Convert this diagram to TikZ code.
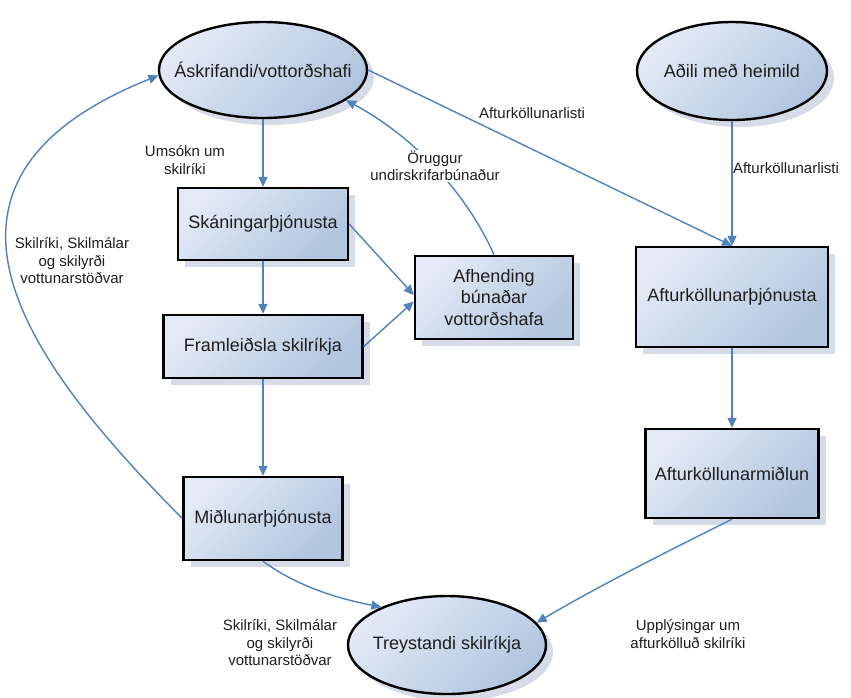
\documentclass[tikz,border=0pt]{standalone}
\usepackage{fontspec}
\setmainfont{Liberation Sans}
\usetikzlibrary{arrows.meta,shapes.geometric,shadows}

\definecolor{arrowblue}{HTML}{4F81BD}
\definecolor{fillA}{HTML}{E3EAF5}
\definecolor{fillB}{HTML}{B2C5DF}
\definecolor{shadowc}{HTML}{D5DCE8}
\definecolor{txt}{HTML}{1E1E1E}

\tikzset{
  base/.style={draw=black, line width=2.4pt, top color=fillA, bottom color=fillB, shading angle=45,
    drop shadow={shadow xshift=7pt, shadow yshift=-7pt, fill=shadowc, opacity=1},
    text=txt, font=\fontsize{18}{21.6}\selectfont, align=center, inner sep=0pt},
  box/.style={base, rectangle},
  oval/.style={base, ellipse},
  lbl/.style={font=\fontsize{15}{17.5}\selectfont, text=txt, align=center, inner sep=1pt},
  conn/.style={draw=arrowblue, line width=1.4pt, -{Triangle[length=10pt,width=9pt]}},
}
\newcommand{\zw}[1]{\makebox[0pt]{#1}}

\begin{document}
\begin{tikzpicture}[x=1pt, y=-1pt]
\useasboundingbox (0,0) rectangle (851,697);

% nodes
\node[oval, minimum width=208pt, minimum height=96pt] (ask) at (263,70) {\zw{Áskrifandi/vottorðshafi}};
\node[oval, minimum width=190pt, minimum height=98pt] (ad) at (732,71) {\zw{Aðili með heimild}};
\node[oval, minimum width=198pt, minimum height=98pt] (tr) at (447,645) {\zw{Treystandi skilríkja}};
\node[box, minimum width=170pt, minimum height=72pt] (skan) at (263,224) {Skáningarþjónusta};
\node[box, minimum width=199pt, minimum height=63pt] (fra) at (263,346.5) {Framleiðsla skilríkja};
\node[box, minimum width=159pt, minimum height=83pt] (mid) at (263,518.5) {Miðlunarþjónusta};
\node[box, minimum width=158pt, minimum height=83pt] (afh) at (494,297.5) {Afhending\\búnaðar\\vottorðshafa};
\node[box, minimum width=192pt, minimum height=100pt] (afth) at (732,297) {Afturköllunarþjónusta};
\node[box, minimum width=173pt, minimum height=89pt] (afmid) at (732,473.5) {Afturköllunarmiðlun};

% connectors
\draw[conn] (ask.south) -- (skan.north);
\draw[conn] (skan.south) -- (fra.north);
\draw[conn] (fra.south) -- (mid.north);
\draw[conn] (skan.east) -- ([yshift=2.5pt]afh.west);
\draw[conn] (fra.east) -- ([yshift=-4pt]afh.west);
\draw[conn] (afh.north) .. controls (470,200) and (420,140) .. (ask.-20);
\draw[conn] (ask.east) -- (afth.north);
\draw[conn] (ad.south) -- (afth.north);
\draw[conn] (afth.south) -- (afmid.north);
\draw[conn] (afmid.south) .. controls (690,540) and (600,585) .. (tr.14);
\draw[conn] (mid.south) .. controls (295,585) and (335,598) .. (tr.150);
\draw[conn] (mid.west) .. controls (32,367) and (-110,183) .. (ask.183);

% labels
\node[lbl] (l1) at (185,160) {Umsókn um\\skilríki};
\node[lbl] (l2) at (72,261) {Skilríki, Skilmálar\\og skilyrði\\vottunarstöðvar};
\node[lbl, fill=white] (l3) at (435,166) {Öruggur\\undirskrifarbúnaður};
\node[lbl] (l4) at (532,113) {Afturköllunarlisti};
\node[lbl] (l5) at (786,168) {Afturköllunarlisti};
\node[lbl] (l6) at (280,643) {Skilríki, Skilmálar\\og skilyrði\\vottunarstöðvar};
\node[lbl] (l7) at (688,634) {Upplýsingar um\\afturkölluð skilríki};
\end{tikzpicture}
\end{document}
